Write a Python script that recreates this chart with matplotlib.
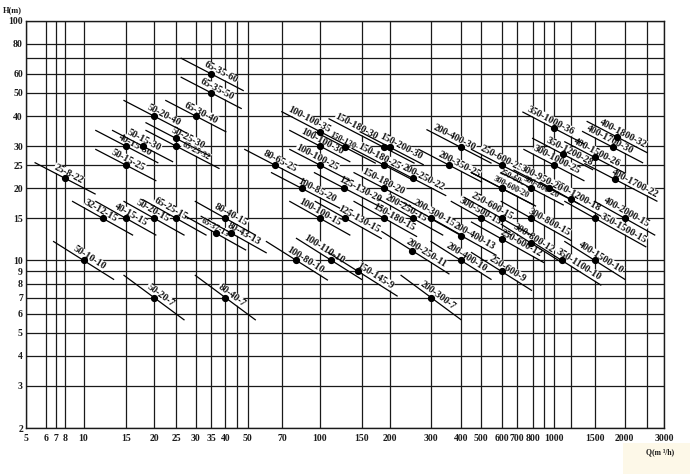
import numpy as np
import matplotlib.pyplot as plt
from matplotlib.patches import Rectangle

# pump models with duty point: flow Q (m3/h), head H (m)
models = [
    "25-8-22", "32-12-15", "40-15-15", "50-20-15", "65-25-15", "65-37-13", "80-40-15", "80-43-13",
    "50-10-10", "50-20-7", "80-40-7",
    "50-15-25", "40-15-30", "50-15-30", "50-20-40", "50-25-30", "65-25-32", "65-30-40", "65-35-50", "65-35-60",
    "80-65-25", "100-100-35", "150-130-30", "100-100-30", "100-100-25", "150-180-30", "150-200-30", "150-180-25",
    "200-250-22", "125-130-20", "100-85-20", "150-180-20", "100-100-15", "125-130-15", "150-180-15",
    "200-250-15", "200-300-15", "100-110-10", "100-80-10", "150-145-9", "200-250-11", "200-300-7",
    "200-400-30", "200-350-25", "200-400-13", "200-400-10",
    "250-600-25", "250-600-20", "300-600-20", "250-600-15", "300-500-15", "250-600-12", "250-600-9",
    "300-800-15", "300-800-12", "350-1100-10", "400-1500-10", "350-1500-15", "400-2000-15", "350-1200-18",
    "300-1000-25", "350-1200-28", "400-1500-26", "400-1700-30", "400-1800-32", "400-1700-22",
    "350-1000-36", "300-950-20", "300-800-20",
]
flow = [
    8, 12, 15, 20, 25, 36.5, 40, 42.5,
    10, 20, 40,
    15, 15, 17.8, 20, 25, 25, 30, 35, 35,
    65, 100, 128, 100, 100, 188, 200, 188,
    250, 127, 84, 188, 100, 128, 188,
    250, 300, 112, 80, 145, 248, 300,
    400, 356, 400, 400,
    600, 600, 600, 600, 500, 600, 600,
    790, 790, 1090, 1500, 1500, 2000, 1200,
    1000, 1100, 1500, 1780, 1860, 1820,
    1000, 950, 790,
]
head = [
    22, 15, 15, 15, 15, 13, 15, 13,
    10, 7, 7,
    25, 30, 30, 40, 32.3, 30, 40, 50, 60,
    25, 34.5, 29.6, 30, 25, 29.6, 29.6, 25,
    22, 20, 20, 20, 15, 15, 15,
    15, 15, 10, 10, 9, 11, 7,
    29.6, 25, 12.7, 10,
    25, 20, 20, 15, 15, 12.3, 9,
    15, 11.8, 10, 10, 15, 15, 18,
    25, 27.8, 26.9, 29.7, 32.7, 21.8,
    35.6, 20, 20,
]

small = {"65-25-32", "65-37-13", "150-130-30", "250-600-20", "300-600-20", "300-800-20"}

# where each label sits along its line (px, label centre minus dot)
label_dx = {
    "25-8-22": 1, "65-35-60": 7, "50-20-40": 7.5, "100-100-15": -2.5, "100-80-10": 6, "100-110-10": -10,
    "150-145-9": 14, "100-100-35": -13, "100-100-25": -5, "150-180-25": -7, "200-250-22": 8,
    "125-130-20": 12.7, "100-85-20": 13, "200-250-15": -9, "150-180-15": 7.5, "125-130-15": 11,
    "200-250-11": 12, "200-400-30": -9, "200-350-25": 7.7, "200-400-13": 10, "250-600-25": -2.5,
    "250-600-15": -12, "300-500-15": -4, "250-600-12": 17, "300-800-15": 15, "300-800-12": 0,
    "350-1100-10": 14, "350-1500-15": 26, "350-1200-18": 4, "300-950-20": -10, "300-800-20": 7,
    "300-1000-25": 0, "350-1200-28": 5, "400-1500-26": 0, "400-1700-30": -5, "400-1700-22": 17,
    "350-1000-36": -6, "150-130-30": 0, "150-180-30": -30, "150-200-30": 8, "32-12-15": -4,
    "50-20-15": -4, "65-25-15": -8, "65-37-13": -2.5, "80-43-13": 10, "50-15-25": 0, "40-15-30": 7,
    "50-15-30": -1, "50-25-30": 9, "65-25-32": 18, "200-300-15": 0, "150-180-20": -3,
    "400-2000-15": -1, "100-100-30": 0, "250-600-20": 9, "300-600-20": 7,
}
label_up = {"250-600-20": 9}

x_ticks = [5, 6, 7, 8, 10, 15, 20, 25, 30, 35, 40, 50, 70, 100, 150, 200, 300, 400, 500,
           600, 700, 800, 1000, 1500, 2000, 3000]
x_grid = [5, 6, 7, 8, 10, 15, 20, 25, 30, 35, 40, 45, 50, 70, 100, 150, 200, 300, 400, 500,
          600, 700, 800, 900, 1000, 1200, 1500, 2000, 2500, 3000]
# the Q axis is hand drawn: pixel column of each grid line
x_pix = [26.4, 45.8, 56.3, 65.1, 83.6, 125.8, 154, 176, 195.8, 211.2, 225.3, 236.7, 247.7,
         282.4, 319.8, 361.6, 390.2, 431.1, 461, 481.3, 501.5, 517, 532.7, 543.8, 553.9,
         570.6, 594.8, 624.7, 646.7, 664.3]
y_ticks = [2, 3, 4, 5, 6, 7, 8, 9, 10, 15, 20, 25, 30, 40, 50, 60, 80, 100]
y_grid = y_ticks + [70]

lq = np.log10(np.r_[1, x_grid, 1e5])
lp = np.r_[x_pix[0] - 190 * np.log10(5), x_pix, x_pix[-1] + 234 * (5 - np.log10(3000))]


def fwd(q):
    q = np.asarray(q, dtype=float)
    with np.errstate(divide='ignore', invalid='ignore'):
        l = np.log10(np.where(q > 0, q, 1e-30))
    return np.interp(l, lq, lp)


def inv(p):
    return 10 ** np.interp(np.asarray(p, dtype=float), lp, lq)


def slope_for(h):
    if h >= 20:
        return 0.52
    if h >= 12:
        return 0.56
    if h >= 9:
        return 0.63
    return 0.74


W, H = 690, 474
serif = 'Liberation Serif'
ink = '#1a1a1a'

fig = plt.figure(figsize=(W / 100, H / 100), dpi=100)
fig.patches.append(Rectangle((623 / W, 0), 67 / W, 31 / H, transform=fig.transFigure,
                             fc='#fdf8e8', ec='none', zorder=0))
ax = fig.add_axes([26.4 / W, (H - 428) / H, (664.3 - 26.4) / W, (428 - 20.7) / H])
ax.set_xscale('function', functions=(fwd, inv))
ax.set_yscale('log')
ax.set_xlim(5, 3000)
ax.set_ylim(2, 100)

ax.set_xticks(x_ticks)
ax.set_xticklabels([str(v) for v in x_ticks])
ax.set_yticks(y_ticks)
ax.set_yticklabels([str(v) for v in y_ticks])
ax.xaxis.set_minor_locator(plt.NullLocator())
ax.yaxis.set_minor_locator(plt.NullLocator())
ax.yaxis.set_minor_formatter(plt.NullFormatter())
ax.tick_params(length=0, labelsize=7, colors=ink)
ax.tick_params(axis='x', pad=4)
ax.tick_params(axis='y', pad=2.5)
for lab in ax.get_xticklabels() + ax.get_yticklabels():
    lab.set_family(serif)
    lab.set_fontweight('bold')

for v in x_grid:
    ax.axvline(v, color=ink, lw=0.9, zorder=1)
for v in y_grid:
    ax.axhline(v, color=ink, lw=0.9, zorder=1)
for sp in ax.spines.values():
    sp.set_color(ink)
    sp.set_linewidth(1)

for name, q, h in zip(models, flow, head):
    s = slope_for(h)
    px, py = ax.transData.transform((q, h))
    dx = label_dx.get(name, 3)
    left = min(-30, dx - 25)
    right = max(30, dx + 25)
    ends = ax.transData.inverted().transform([(px + left, py - s * left),
                                              (px + right, py - s * right)])
    ax.plot(ends[:, 0], ends[:, 1], color='k', lw=0.9, zorder=3)
    ax.plot(q, h, 'o', color='k', ms=4.2, zorder=5)

    ang = np.arctan(-s)
    t = dx / np.cos(ang)
    g = 1.0 + label_up.get(name, 0)
    ox = t * np.cos(ang) - g * np.sin(ang)
    oy = t * np.sin(ang) + g * np.cos(ang)
    ax.annotate(name, (q, h), xytext=(ox, oy), textcoords='offset pixels',
                rotation=np.degrees(ang), rotation_mode='anchor', ha='center', va='bottom',
                fontsize=6 if name in small else 7.2, family=serif, fontweight='bold',
                color='#111111', bbox=dict(fc='white', ec='none', pad=0.2), zorder=2)

fig.text(3 / W, 1 - 10 / H, 'H(m)', fontsize=6, family=serif, fontweight='bold',
         va='center', color=ink)
fig.text(660 / W, 1 - 452 / H, 'Q(m ³/h)', fontsize=5.5, family=serif, fontweight='bold',
         ha='center', va='center', color=ink)

fig.savefig('out.png', dpi=100)
